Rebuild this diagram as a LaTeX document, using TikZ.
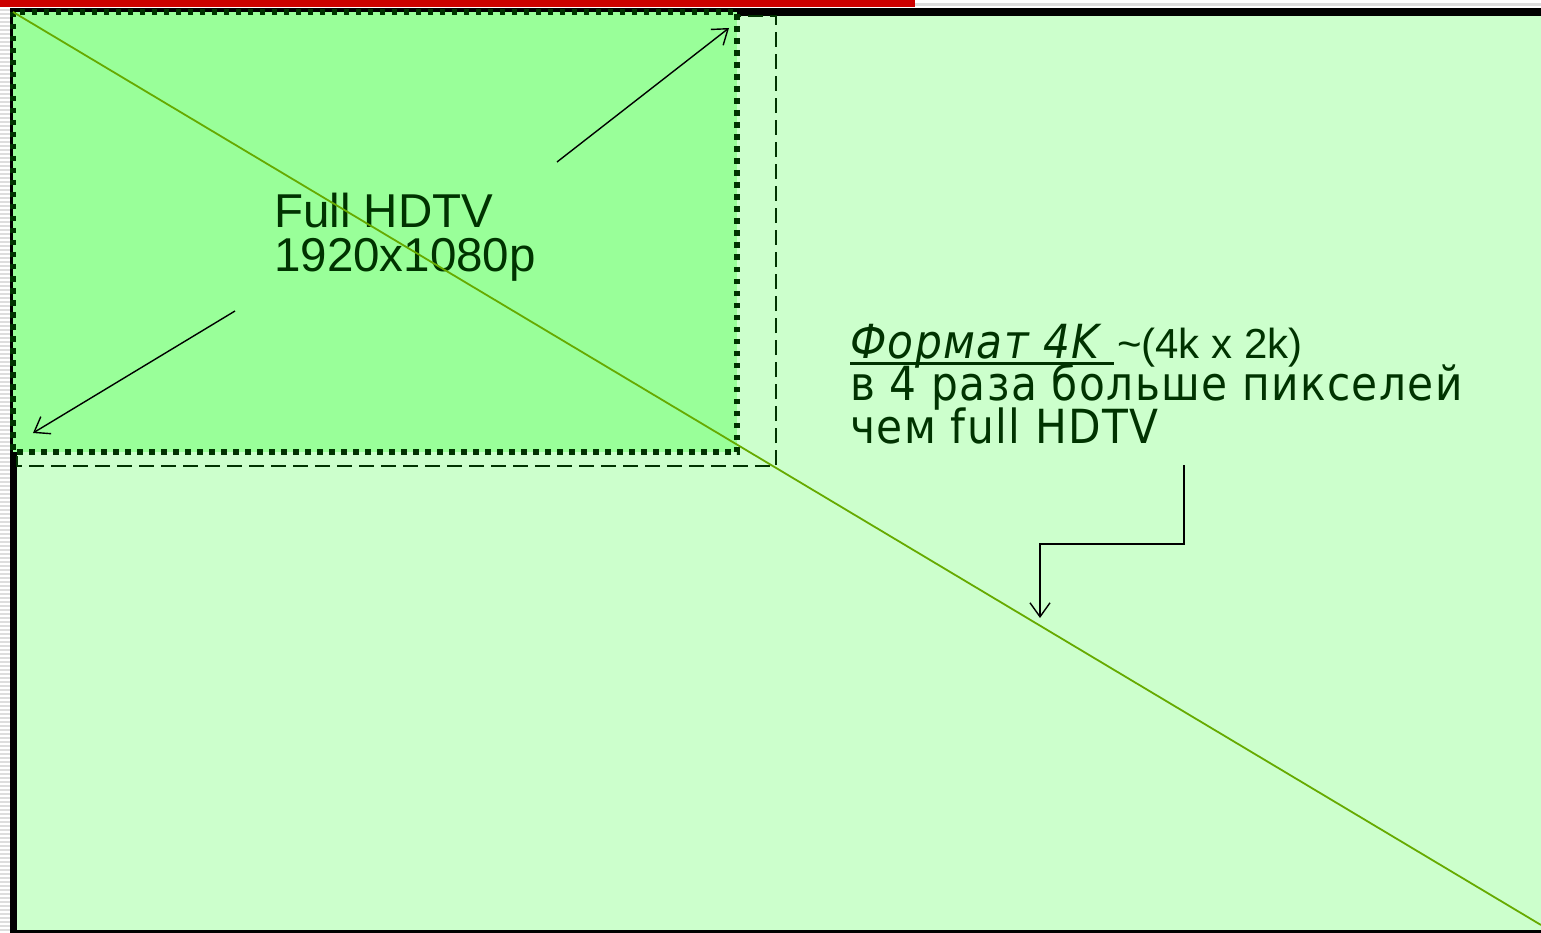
\documentclass[tikz,border=0pt]{standalone}
\usepackage{fontspec}
\setmainfont{Liberation Sans}
\newfontfamily\rufont[LetterSpace=3]{DejaVu Sans Condensed}
\usetikzlibrary{arrows.meta,positioning,calc}
\definecolor{redbar}{HTML}{CC0000}
\definecolor{paleg}{HTML}{CCFFCC}
\definecolor{hdgreen}{HTML}{99FF99}
\definecolor{darkg}{HTML}{003300}
\definecolor{diagg}{HTML}{66AA00}
\definecolor{stripe}{HTML}{DDDDDD}
\tikzset{
  hdlabel/.style={font=\fontsize{47.5}{44}\selectfont,text=darkg,anchor=base west,inner sep=0pt,text height=34pt,text depth=8pt},
  rulabel/.style={font=\rufont\fontsize{47}{42}\selectfont,text=darkg,anchor=base west,inner sep=0pt,text height=33pt,text depth=8pt},
  sizelabel/.style={font=\fontsize{42}{42}\selectfont,text=darkg,anchor=base west,inner sep=0pt,text height=31pt,text depth=8pt},
  blackedge/.style={fill=black,draw=none},
  hdbox/.style={fill=hdgreen,draw=darkg,line width=5.5pt,dash pattern=on 5.5pt off 6.5pt},
  fourk/.style={draw=darkg,line width=1.5pt,dash pattern=on 15pt off 7pt},
  diag/.style={draw=diagg,line width=1.8pt},
  arr/.style={-{Straight Barb[length=14pt,width=20pt]},draw=black,line width=1.4pt}
}
\begin{document}
\begin{tikzpicture}[x=1pt,y=-1pt]
\path[use as bounding box] (0,0) rectangle (1541,933);
% slide edge
\fill[white] (0,0) rectangle (1541,933);
\foreach \y in {10,14,...,930} \draw[stripe,line width=1.5pt] (0,\y)--(10,\y);
\fill[stripe] (915,3) rectangle (1541,6);
\fill[redbar] (0,0) rectangle (915,7.5);
\fill[blackedge] (10,8.5) rectangle (1541,16);
\fill[blackedge] (10,8.5) rectangle (17,933);
\fill[blackedge] (10,929.5) rectangle (1541,933);
\fill[paleg] (17,16) rectangle (1541,929.5);
% 4K area and full HD area
\draw[fourk] (17,16) rectangle (776,466);
\path[hdbox] (13,12) rectangle (737,452);
\node[hdlabel] (hd1) at (274,228) {Full HDTV};
\node[hdlabel] (hd2) at (274,272) {1920x1080p};
\node[rulabel] (fmt) at (850,358) {\itshape Формат 4K\hspace*{14pt}};
\node[sizelabel] (size) at ([xshift=3pt]fmt.base east) {\textasciitilde(4k x 2k)};
\draw[darkg,line width=3pt] ([yshift=-5pt]fmt.base west)--([yshift=-5pt]fmt.base east);
\node[rulabel] (ru2) at (850,400) {в 4 раза больше пикселей};
\node[rulabel] (ru3) at (850,443) {чем full HDTV};
% diagonal and arrows
\coordinate (tl) at (13,12); \coordinate (br) at (1541,925);
\draw[diag] (tl)--(br);
\coordinate (a1s) at (557,162); \coordinate (a1e) at (729,28);
\coordinate (a2s) at (235,311); \coordinate (a2e) at (33,433);
\draw[arr] (a1s)--(a1e); \draw[arr] (a2s)--(a2e);
\coordinate (el) at (1184,465); \coordinate (et) at (1040,618);
\draw[arr] (el)--++(0,79)-|(et);
\end{tikzpicture}
\end{document}
